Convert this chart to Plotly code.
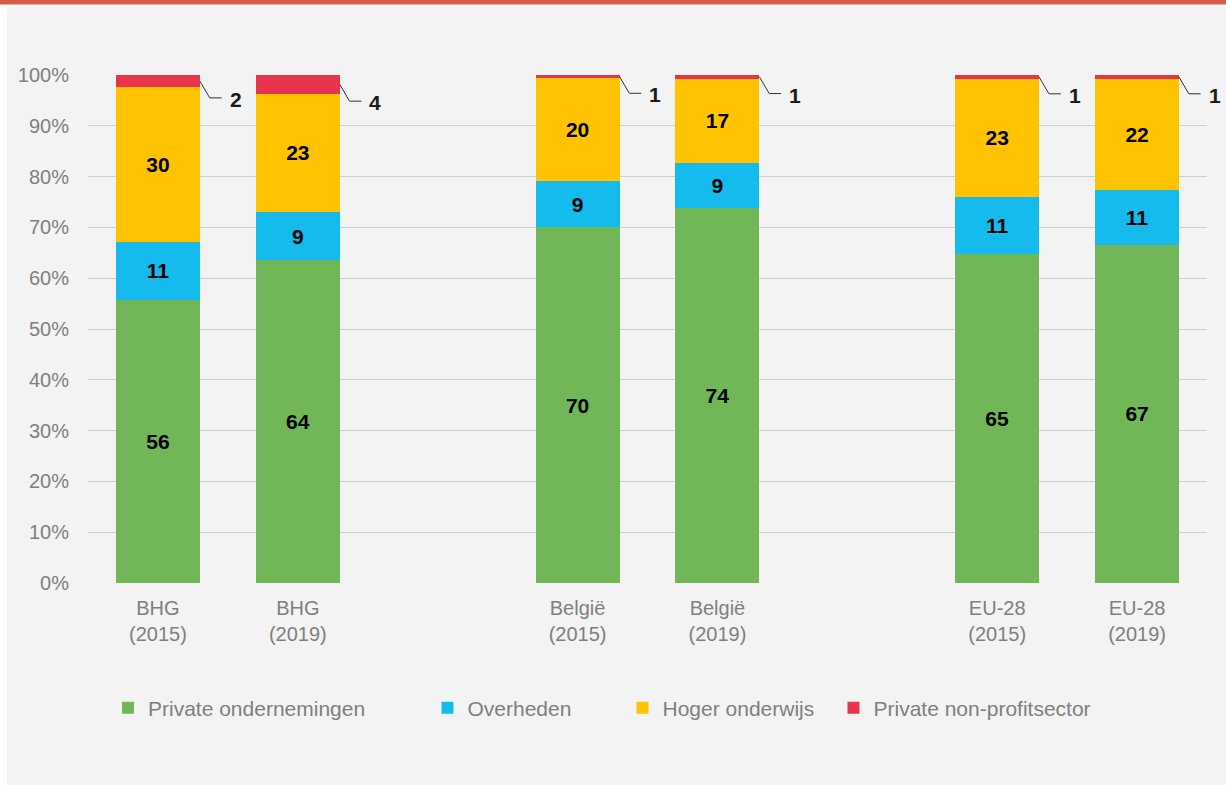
import plotly.graph_objects as go

# ---- data ----
categories = ["BHG<br>(2015)", "BHG<br>(2019)", "België<br>(2015)", "België<br>(2019)", "EU-28<br>(2015)", "EU-28<br>(2019)"]
positions = [0, 1, 3, 4, 6, 7]
private_ondernemingen = [55.8, 63.6, 70.0, 73.8, 64.8, 66.6]
overheden = [11.4, 9.4, 9.2, 8.9, 11.2, 10.8]
hoger_onderwijs = [30.4, 23.3, 20.2, 16.6, 23.2, 21.8]
private_non_profit = [2.4, 3.7, 0.6, 0.7, 0.8, 0.8]
y_ticks = [0, 10, 20, 30, 40, 50, 60, 70, 80, 90, 100]
y_tick_labels = [f"{v}%" for v in y_ticks]

series = [
    ("Private ondernemingen", private_ondernemingen, "#72b757", "legend"),
    ("Overheden", overheden, "#15bbec", "legend2"),
    ("Hoger onderwijs", hoger_onderwijs, "#ffc300", "legend3"),
    ("Private non-profitsector", private_non_profit, "#e8354e", "legend4"),
]

FONT = "Liberation Sans, Arial, sans-serif"
GRAY = "#7f7f7f"
W, H = 1226, 785
L, R, T, B = 88, 19, 75, 202
PW, PH = W - L - R, H - T - B
X_MIN, X_MAX = -0.5, 7.5


def rnd(v):
    return int(v + 0.5)


def px_x(px):
    return (px - L) / PW


def px_y(py):
    return (H - B - py) / PH


def data_x_to_paper(x):
    return (x - X_MIN) / (X_MAX - X_MIN)


fig = go.Figure()
for name, vals, color, leg in series:
    is_small = name == "Private non-profitsector"
    fig.add_trace(go.Bar(
        x=positions, y=vals, name=name, legend=leg,
        marker=dict(color=color, line=dict(width=0)),
        width=0.6,
        text=None if is_small else [f"<b>{rnd(v)}</b>" for v in vals],
        textposition="inside", insidetextanchor="middle", textangle=0,
        textfont=dict(family=FONT, size=21, color="black"),
        hoverinfo="skip",
    ))

shapes = []
annotations = []
# leader lines and labels for the small red segment
for i, p in enumerate(positions):
    top = private_ondernemingen[i] + overheden[i] + hoger_onderwijs[i] + private_non_profit[i]
    y0 = top - private_non_profit[i] / 2
    y1 = y0 - 3.3
    x0 = p + 0.3
    x1 = x0 + 0.07
    x2 = x0 + 0.155
    shapes.append(dict(type="path", xref="x", yref="y",
                       path=f"M {x0},{y0} L {x1},{y1} L {x2},{y1}",
                       line=dict(color="#333333", width=1)))
    annotations.append(dict(x=data_x_to_paper(x2 + 0.1), y=y1 - 0.3, xref="paper", yref="y",
                            text=f"<b>{rnd(private_non_profit[i])}</b>", showarrow=False,
                            font=dict(family=FONT, size=21, color="#1a1a1a"),
                            xanchor="center", yanchor="middle"))

# frame: white strips and red top line
shapes.append(dict(type="rect", xref="paper", yref="paper", layer="above",
                   x0=px_x(0), x1=px_x(7), y0=px_y(H), y1=px_y(0),
                   fillcolor="white", line=dict(width=0)))
shapes.append(dict(type="rect", xref="paper", yref="paper", layer="above",
                   x0=px_x(0), x1=px_x(W), y0=px_y(7), y1=px_y(0),
                   fillcolor="white", line=dict(width=0)))
shapes.append(dict(type="rect", xref="paper", yref="paper", layer="above",
                   x0=px_x(0), x1=px_x(W), y0=px_y(4.5), y1=px_y(0),
                   fillcolor="#d65a46", line=dict(width=0)))

leg_common = dict(orientation="h", yanchor="middle", xanchor="left",
                  bgcolor="rgba(0,0,0,0)", borderwidth=0,
                  font=dict(family=FONT, size=21, color=GRAY), itemwidth=30)
legend_centers = [130, 449.5, 644.5, 855.5]
leg_layout = {}
for k, c in zip(["legend", "legend2", "legend3", "legend4"], legend_centers):
    leg_layout[k] = dict(leg_common, x=px_x(c - 22), y=px_y(708))

fig.update_layout(
    width=W, height=H,
    margin=dict(l=L, r=R, t=T, b=B),
    paper_bgcolor="#f2f3f2", plot_bgcolor="rgba(0,0,0,0)",
    barmode="stack", bargap=0.4,
    font=dict(family=FONT, size=20, color=GRAY),
    showlegend=True,
    xaxis=dict(range=[X_MIN, X_MAX], tickvals=positions, ticktext=categories,
               showgrid=False, zeroline=False, showline=False, ticks="",
               ticklabelstandoff=11,
               tickfont=dict(family=FONT, size=20, color=GRAY), fixedrange=True),
    yaxis=dict(range=[0, 100], tickvals=y_ticks, ticktext=y_tick_labels,
               showgrid=True, gridcolor="#cfcfcf", gridwidth=1,
               zeroline=False, showline=False, ticks="",
               ticklabelstandoff=18,
               tickfont=dict(family=FONT, size=20, color=GRAY), fixedrange=True),
    shapes=shapes, annotations=annotations,
    uniformtext=dict(minsize=21, mode="show"),
    **leg_layout,
)

fig.write_html("out.html", config={"displayModeBar": False},
               post_script="document.body.style.margin='0';")
